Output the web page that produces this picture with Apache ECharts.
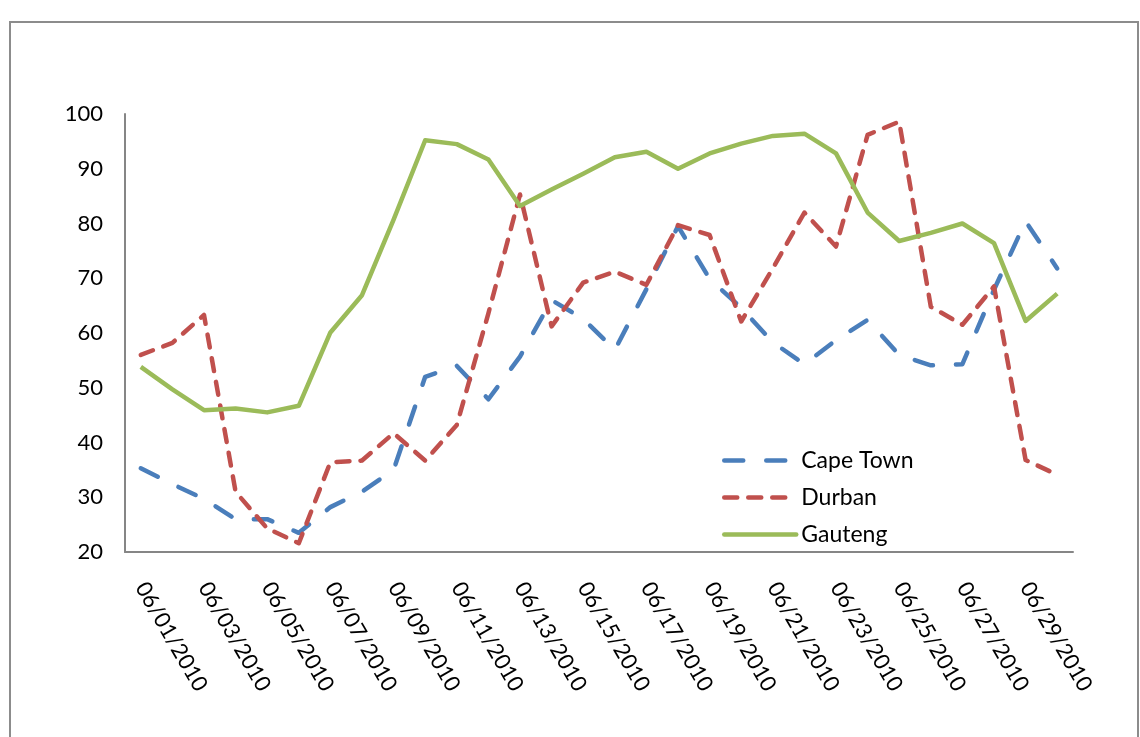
<!DOCTYPE html>
<html>
<head>
<meta charset="utf-8">
<script src="https://cdn.jsdelivr.net/npm/echarts@6/dist/echarts.min.js"></script>
<style>
html,body{margin:0;padding:0;background:#fff;}
#c{width:1140px;height:737px;}
</style>
</head>
<body>
<div id="c"></div>
<script>
const dates = ["06/01/2010","06/02/2010","06/03/2010","06/04/2010","06/05/2010","06/06/2010","06/07/2010","06/08/2010","06/09/2010","06/10/2010",
"06/11/2010","06/12/2010","06/13/2010","06/14/2010","06/15/2010","06/16/2010","06/17/2010","06/18/2010","06/19/2010","06/20/2010",
"06/21/2010","06/22/2010","06/23/2010","06/24/2010","06/25/2010","06/26/2010","06/27/2010","06/28/2010","06/29/2010","06/30/2010"];
const capeTown = [35.3,32.4,29.7,26.0,26.0,23.5,28.2,31.0,35.0,52.0,54.0,47.9,55.7,66.0,62.6,56.9,68.0,79.5,69.9,64.6,58.3,54.3,58.7,62.4,56.0,54.1,54.3,67.9,80.4,71.8];
const durban = [56.0,58.2,63.3,31.0,24.3,21.6,36.4,36.7,41.7,36.7,43.2,63.6,85.3,61.2,69.2,71.2,68.8,79.7,77.9,62.1,71.8,82.0,75.8,96.2,98.6,64.8,61.5,68.5,36.8,34.1];
const gauteng = [53.8,49.7,45.9,46.2,45.5,46.7,60.1,66.9,80.7,95.2,94.5,91.7,83.2,86.2,89.1,92.1,93.1,90.0,92.8,94.6,96.0,96.4,92.8,82.0,76.8,78.3,80.0,76.4,62.2,67.2];
const yMin = 20, yMax = 100, yStep = 10;

const chart = echarts.init(document.getElementById('c'));
const font = 'Lato';
const lw = 4.5;
chart.setOption({
  animation: false,
  backgroundColor: '#fff',
  graphic: [{
    type: 'rect', shape: {x: 10, y: 22, width: 1128, height: 740},
    style: {fill: 'none', stroke: '#8c8c8c', lineWidth: 2}, silent: true, z: -1
  }],
  grid: {left: 125, right: 67, top: 114, bottom: 185, containLabel: false},
  legend: {
    orient: 'vertical', left: 717, top: 444,
    itemWidth: 72, itemHeight: 16, itemGap: 14,
    itemStyle: {opacity: 0},
    lineStyle: {width: lw, type: 'inherit', cap: 'round'},
    textStyle: {fontFamily: font, fontSize: 23, color: '#000'},
    data: ['Cape Town','Durban','Gauteng']
  },
  xAxis: {
    type: 'category', data: dates, boundaryGap: true,
    axisLine: {lineStyle: {color: '#868686', width: 2}},
    axisTick: {show: false},
    axisLabel: {interval: 1, rotate: -60, margin: 32, color: '#000', fontFamily: font, fontSize: 22}
  },
  yAxis: {
    type: 'value', min: yMin, max: yMax, interval: yStep,
    axisLine: {show: true, lineStyle: {color: '#868686', width: 2}},
    axisTick: {show: false},
    splitLine: {show: false},
    axisLabel: {margin: 22, color: '#000', fontFamily: font, fontSize: 22}
  },
  series: [
    {name: 'Cape Town', type: 'line', data: capeTown, symbol: 'none', color: '#4a7ebb',
     lineStyle: {width: lw, color: '#4a7ebb', type: [19, 23], cap: 'round', join: 'round'}},
    {name: 'Durban', type: 'line', data: durban, symbol: 'none', color: '#c0504d',
     lineStyle: {width: lw, color: '#c0504d', type: [13, 11], cap: 'round', join: 'round'}},
    {name: 'Gauteng', type: 'line', data: gauteng, symbol: 'none', color: '#9bbb59',
     lineStyle: {width: lw, color: '#9bbb59', join: 'round'}}
  ]
});
</script>
</body>
</html>
